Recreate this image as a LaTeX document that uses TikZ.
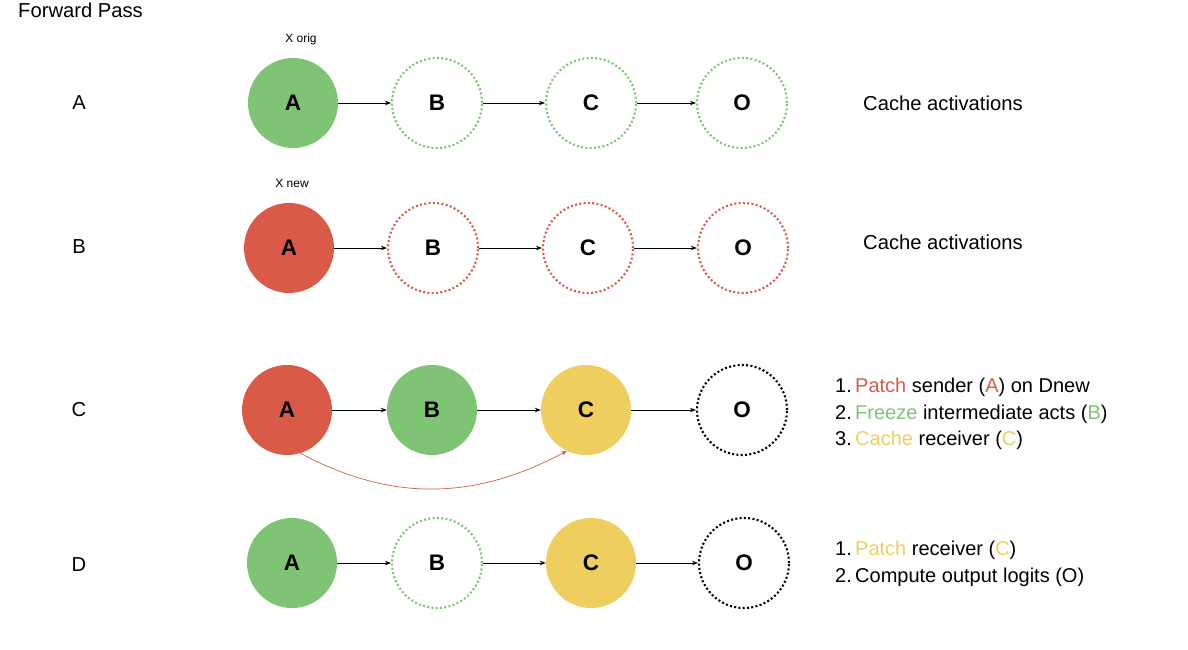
\documentclass[tikz,border=0pt]{standalone}
\usepackage{fontspec}
\setmainfont{Liberation Sans}
\usetikzlibrary{arrows.meta}
\definecolor{gr}{RGB}{126,196,116}
\definecolor{rd}{RGB}{217,91,71}
\definecolor{yl}{RGB}{239,206,96}
\begin{document}
\begin{tikzpicture}[x=1pt,y=-1pt,
  nd/.style={circle,minimum size=90pt,inner sep=0pt,font=\fontsize{22.5}{26}\selectfont\bfseries},
  full/.style={nd,fill=#1},
  dotc/.style={nd,draw=#1,line width=2.1pt,dash pattern=on 2pt off 2.3pt},
  arr/.style={-{Stealth[length=6pt,width=4.5pt]},line width=0.8pt},
  lbl/.style={anchor=west,inner sep=0pt,font=\fontsize{20.2}{24}\selectfont},
  small/.style={inner sep=0pt,font=\fontsize{12}{14}\selectfont},
  listtext/.style={anchor=north west,inner sep=0pt,align=left,font=\fontsize{20}{26.5}\selectfont}]
\useasboundingbox (0,0) rectangle (1188,650);
\node[lbl] (title) at (18,10) {Forward Pass};
% row labels
\node[lbl,anchor=center] (la) at (79,103) {A};
\node[lbl,anchor=center] (lb) at (79,247) {B};
\node[lbl,anchor=center] (lc) at (79,410) {C};
\node[lbl,anchor=center] (ld) at (79,565) {D};
% row A
\node[full=gr] (aA) at (293,103) {A};
\node[dotc=gr] (aB) at (437,103) {B};
\node[dotc=gr] (aC) at (591,103) {C};
\node[dotc=gr] (aO) at (742,103) {O};
\node[small] (xo) at (301,39) {X orig};
\draw[arr] (aA) -- (aB);
\draw[arr] (aB) -- (aC);
\draw[arr] (aC) -- (aO);
\node[lbl] (ca1) at (863,103) {Cache activations};
% row B
\node[full=rd] (bA) at (289,248) {A};
\node[dotc=rd] (bB) at (433,248) {B};
\node[dotc=rd] (bC) at (588,248) {C};
\node[dotc=rd] (bO) at (743,248) {O};
\node[small] (xn) at (292,183) {X new};
\draw[arr] (bA) -- (bB);
\draw[arr] (bB) -- (bC);
\draw[arr] (bC) -- (bO);
\node[lbl] (ca2) at (863,242) {Cache activations};
% row C
\node[full=rd] (cA) at (287,410) {A};
\node[full=gr] (cB) at (432,410) {B};
\node[full=yl] (cC) at (586,410) {C};
\node[dotc=black] (cO) at (742,410) {O};
\draw[arr] (cA) -- (cB);
\draw[arr] (cB) -- (cC);
\draw[arr] (cC) -- (cO);
\draw[arr,draw=rd,line width=0.7pt] (cA.-73) to[out=-28,in=-152] (cC.-115);
\node[listtext] (list1) at (835,378) {1.\,\textcolor{rd}{Patch} sender (\textcolor{rd}{A}) on Dnew\\
2.\,\textcolor{gr}{Freeze} intermediate acts (\textcolor{gr}{B})\\
3.\,\textcolor{yl}{Cache} receiver (\textcolor{yl}{C})};
% row D
\node[full=gr] (dA) at (292,563) {A};
\node[dotc=gr] (dB) at (437,563) {B};
\node[full=yl] (dC) at (591,563) {C};
\node[dotc=black] (dO) at (744,563) {O};
\draw[arr] (dA) -- (dB);
\draw[arr] (dB) -- (dC);
\draw[arr] (dC) -- (dO);
\node[listtext] (list2) at (835,541) {1.\,\textcolor{yl}{Patch} receiver (\textcolor{yl}{C})\\
2.\,Compute output logits (O)};
\end{tikzpicture}
\end{document}
